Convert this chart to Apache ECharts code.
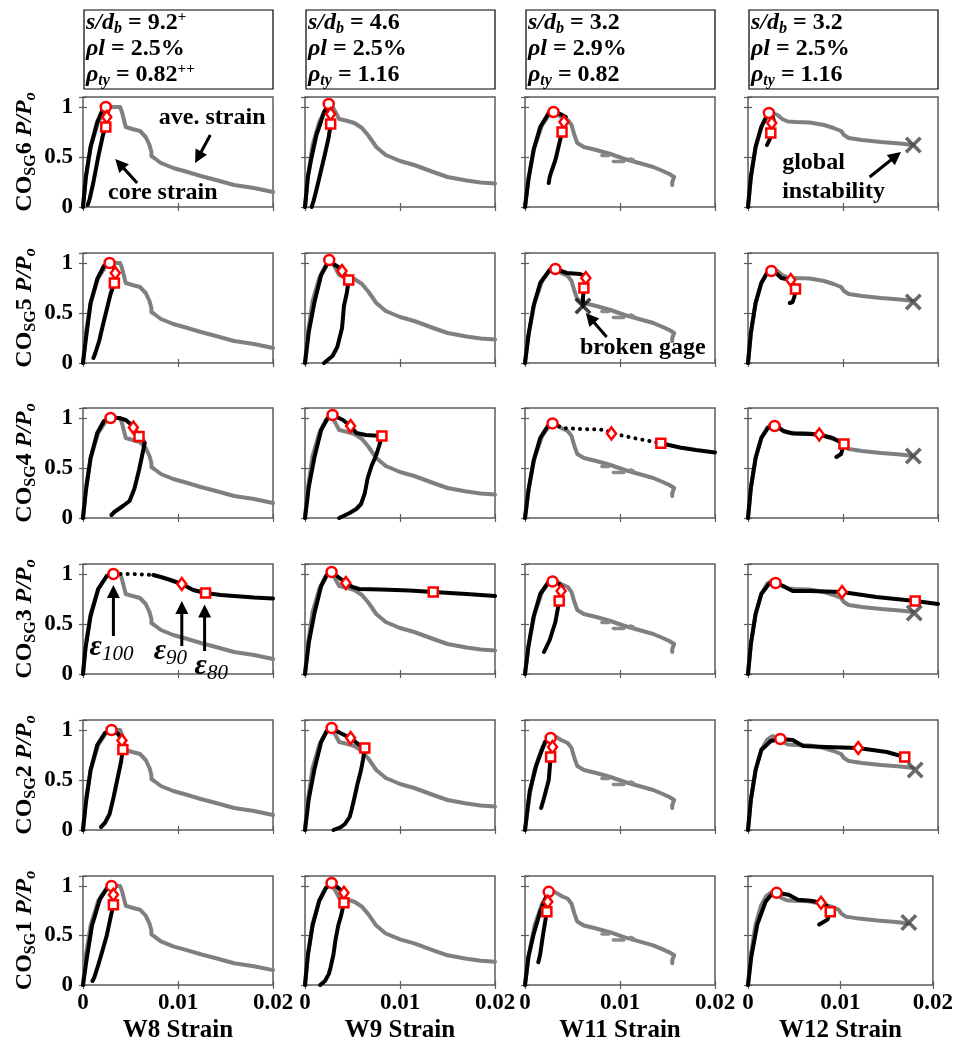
<!DOCTYPE html>
<html>
<head>
<meta charset="utf-8">
<script src="https://cdn.jsdelivr.net/npm/echarts@6/dist/echarts.min.js"></script>
<style>
  html, body { margin: 0; padding: 0; background: #fff; }
  #chart { width: 956px; height: 1044px; }
</style>
</head>
<body>
<div id="chart"></div>
<script>
// ---- column / row identifiers ----
const walls = ['W8', 'W9', 'W11', 'W12'];
const gauges = ['6', '5', '4', '3', '2', '1'];          // rows, top to bottom

// ---- specimen parameters shown above each column ----
const sdValue = ['9.2', '4.6', '3.2', '3.2'];
const sdMark = ['+', '', '', ''];
const rhoL = ['2.5%', '2.5%', '2.9%', '2.5%'];
const rhoTy = ['0.82', '1.16', '0.82', '1.16'];
const rhoTyMark = ['++', '', '', ''];

// ---- tick values ----
const strainTicks = [0, 0.01, 0.02];
const loadTicks = [0, 0.5, 1];

// ---- average strain (gray), one trace per wall: [strain, P/Po] ----
const aveW8 = [[0,0],[0.0003,0.3],[0.0008,0.6],[0.0016,0.85],[0.0025,0.98],[0.003,1.0],[0.0039,1.0],[0.0041,0.95],[0.0045,0.8],[0.0052,0.78],[0.006,0.76],[0.0066,0.7],[0.007,0.62],[0.0072,0.55],[0.0072,0.51],[0.007,0.5],[0.0075,0.49],[0.0082,0.44],[0.0095,0.39],[0.011,0.35],[0.0124,0.31],[0.014,0.27],[0.0159,0.22],[0.018,0.19],[0.02,0.15]];
const aveW9 = [[0,0],[0.0003,0.3],[0.0008,0.62],[0.0015,0.85],[0.0022,0.98],[0.0028,1.02],[0.0032,0.95],[0.0036,0.88],[0.0045,0.86],[0.0052,0.84],[0.006,0.79],[0.0067,0.71],[0.0075,0.6],[0.0085,0.52],[0.01,0.46],[0.0115,0.42],[0.0135,0.35],[0.015,0.3],[0.017,0.265],[0.0185,0.245],[0.02,0.235]];
const aveW11 = [[0,0],[0.0004,0.3],[0.001,0.6],[0.0018,0.82],[0.0026,0.93],[0.0031,0.94],[0.0038,0.9],[0.0045,0.87],[0.0049,0.82],[0.0052,0.72],[0.0055,0.64],[0.0062,0.6],[0.0075,0.57],[0.009,0.53],[0.0105,0.48],[0.012,0.44],[0.0135,0.4],[0.0145,0.36],[0.0152,0.33],[0.0157,0.3],[0.0155,0.25],[0.0155,0.22]];
const aveW11Stray = [[[0.0081,0.515],[0.0088,0.515]], [[0.0093,0.455],[0.0104,0.455]], [[0.0111,0.48],[0.0114,0.47]]];
const aveW12 = [[0,0],[0.0003,0.3],[0.0008,0.6],[0.0014,0.8],[0.002,0.9],[0.0026,0.94],[0.0031,0.92],[0.0036,0.88],[0.0042,0.855],[0.005,0.85],[0.0065,0.845],[0.008,0.82],[0.009,0.79],[0.0098,0.76],[0.0101,0.72],[0.0106,0.69],[0.012,0.67],[0.014,0.65],[0.016,0.635],[0.0174,0.62]];

// ---- core strain (black), one trace per gauge row; null splits a trace ----
const coreW8 = [
  [[0,0],[0.0003,0.3],[0.0008,0.6],[0.0015,0.85],[0.002,0.96],[0.0024,1.0],[0.0026,0.95],[0.0025,0.9],[0.0025,0.85],[0.0024,0.8],[0.0021,0.72],[0.0016,0.5],[0.0011,0.25],[0.0007,0.08],[0.0005,0.02]],
  [[0,0],[0.0003,0.24],[0.0008,0.6],[0.0015,0.84],[0.0022,0.97],[0.0028,1.0],[0.0032,0.96],[0.0034,0.9],[0.0033,0.8],[0.0029,0.69],[0.0022,0.42],[0.0017,0.22],[0.0013,0.1],[0.0011,0.05]],
  [[0,0],[0.0003,0.27],[0.0008,0.6],[0.0015,0.85],[0.0022,0.97],[0.0029,1.0],[0.0038,1.0],[0.0045,0.98],[0.005,0.94],[0.0053,0.905],[0.0057,0.85],[0.0059,0.815],[0.0063,0.78],[0.0065,0.75],[0.0063,0.66],[0.0059,0.48],[0.0054,0.29],[0.0049,0.17],[0.0042,0.12],[0.0033,0.06],[0.003,0.03]],
  [[0,0],[0.00025,0.25],[0.0008,0.58],[0.0016,0.85],[0.0025,0.98],[0.0032,1.0], null, [0.0074,0.99],[0.0082,0.97],[0.0092,0.94],[0.0104,0.9],[0.0116,0.84],[0.0129,0.81],[0.0145,0.79],[0.0159,0.78],[0.018,0.765],[0.02,0.755]],
  [[0,0],[0.0003,0.27],[0.0008,0.6],[0.0015,0.85],[0.0023,0.97],[0.003,1.0],[0.0037,0.96],[0.0041,0.895],[0.0042,0.805],[0.004,0.68],[0.0036,0.5],[0.0032,0.32],[0.0028,0.16],[0.0023,0.07],[0.0019,0.03]],
  [[0,0],[0.0004,0.27],[0.00095,0.6],[0.0018,0.87],[0.0027,1.0],[0.003,1.0],[0.0032,0.95],[0.0032,0.91],[0.0032,0.81],[0.0029,0.68],[0.0025,0.5],[0.002,0.33],[0.0016,0.2],[0.0012,0.08],[0.001,0.04]]
];
const coreW8Dotted = [null, null, null, [[0.0032,1.0],[0.0042,1.0],[0.0052,1.0],[0.0062,0.995],[0.0074,0.99]], null, null];

const coreW9 = [
  [[0,0],[0.0003,0.3],[0.0007,0.5],[0.0012,0.72],[0.0016,0.83],[0.002,0.95],[0.0025,1.03],[0.0027,0.98],[0.0027,0.93],[0.0027,0.83],[0.0025,0.7],[0.0021,0.53],[0.0016,0.33],[0.0012,0.17],[0.0009,0.06],[0.0007,0]],
  [[0,0],[0.0004,0.31],[0.001,0.61],[0.0017,0.88],[0.0024,1.0],[0.00255,1.03],[0.003,0.99],[0.0035,0.96],[0.0039,0.92],[0.0043,0.87],[0.0046,0.83],[0.0044,0.7],[0.0041,0.57],[0.0039,0.35],[0.0034,0.16],[0.0029,0.07],[0.002,0]],
  [[0,0],[0.0004,0.31],[0.001,0.61],[0.0017,0.88],[0.0024,1.0],[0.0029,1.03],[0.004,0.98],[0.0048,0.92],[0.0054,0.85],[0.0064,0.83],[0.0081,0.82],[0.0078,0.72],[0.0075,0.63],[0.007,0.52],[0.0066,0.4],[0.0063,0.25],[0.0059,0.14],[0.0054,0.09],[0.0047,0.05],[0.0036,0]],
  [[0,0],[0.0004,0.31],[0.001,0.61],[0.0017,0.88],[0.0023,0.99],[0.0028,1.02],[0.0035,0.97],[0.0043,0.91],[0.005,0.87],[0.0057,0.85],[0.008,0.845],[0.011,0.835],[0.0135,0.82],[0.017,0.8],[0.02,0.78]],
  [[0,0],[0.0004,0.31],[0.001,0.61],[0.0017,0.88],[0.0023,0.99],[0.0028,1.02],[0.0037,0.97],[0.0048,0.92],[0.0056,0.86],[0.0063,0.82],[0.0061,0.7],[0.0059,0.6],[0.0055,0.45],[0.0052,0.32],[0.0049,0.2],[0.0047,0.13],[0.0042,0.06],[0.0038,0.03],[0.003,0]],
  [[0,0],[0.0003,0.3],[0.0008,0.6],[0.0015,0.85],[0.0022,0.98],[0.0028,1.03],[0.0035,0.98],[0.0041,0.93],[0.0041,0.83],[0.0038,0.7],[0.0035,0.6],[0.0032,0.45],[0.003,0.31],[0.0027,0.18],[0.0025,0.11],[0.0021,0.04],[0.0016,0]]
];
const coreW9Dotted = [null, null, null, null, null, null];

const coreW11 = [
  [[0,0],[0.00035,0.27],[0.0009,0.57],[0.0016,0.8],[0.0025,0.94],[0.003,0.95],[0.0037,0.93],[0.0043,0.9],[0.0042,0.87],[0.0041,0.85],[0.0039,0.75],[0.0037,0.67],[0.0032,0.47],[0.0028,0.36],[0.0026,0.3],[0.0025,0.24]],
  [[0,0],[0.00035,0.27],[0.0009,0.57],[0.0016,0.8],[0.0026,0.93],[0.0032,0.94],[0.0044,0.9],[0.0058,0.89],[0.0063,0.87],[0.0064,0.85],[0.0063,0.8],[0.0062,0.75],[0.0061,0.65],[0.0061,0.57]],
  [[0,0],[0.00035,0.27],[0.0009,0.57],[0.0016,0.8],[0.0024,0.92],[0.0029,0.946], null, [0.0143,0.748],[0.0163,0.705],[0.018,0.68],[0.02,0.655]],
  [[0,0],[0.00035,0.27],[0.0009,0.57],[0.0016,0.8],[0.0024,0.91],[0.0029,0.925],[0.0036,0.9],[0.0039,0.87],[0.0038,0.83],[0.0036,0.73],[0.0032,0.52],[0.0026,0.34],[0.0021,0.24],[0.002,0.22]],
  [[0,0],[0.0005,0.39],[0.0012,0.65],[0.0021,0.88],[0.0027,0.92],[0.0029,0.88],[0.0029,0.83],[0.0027,0.73],[0.0025,0.5],[0.002,0.32],[0.0017,0.22]],
  [[0,0],[0.00035,0.28],[0.0009,0.51],[0.0016,0.74],[0.0023,0.91],[0.0025,0.94],[0.0025,0.89],[0.0024,0.84],[0.0023,0.74],[0.0019,0.51],[0.0016,0.31],[0.0014,0.23]]
];
const coreW11Dotted = [null, null, [[0.0029,0.946],[0.004,0.9],[0.006,0.89],[0.0078,0.885],[0.0086,0.875],[0.0091,0.846],[0.01,0.83],[0.0114,0.8],[0.0128,0.775],[0.0143,0.748]], null, null, null];

const coreW12 = [
  [[0,0],[0.0003,0.3],[0.0008,0.6],[0.0014,0.8],[0.0019,0.9],[0.0022,0.94],[0.0026,0.9],[0.0027,0.87],[0.0025,0.84],[0.0024,0.74],[0.0023,0.68],[0.002,0.62]],
  [[0,0],[0.0003,0.3],[0.0008,0.6],[0.0014,0.8],[0.002,0.9],[0.00246,0.92],[0.003,0.895],[0.0035,0.85],[0.004,0.84],[0.0045,0.83],[0.0047,0.8],[0.005,0.74],[0.0049,0.67],[0.0047,0.61],[0.0044,0.6]],
  [[0,0],[0.0003,0.3],[0.0008,0.6],[0.0014,0.8],[0.0021,0.9],[0.0028,0.92],[0.0033,0.9],[0.0037,0.87],[0.0047,0.845],[0.0065,0.84],[0.0075,0.835],[0.0089,0.8],[0.0101,0.74],[0.0098,0.64],[0.0093,0.61]],
  [[0,0],[0.0003,0.3],[0.0008,0.6],[0.0014,0.8],[0.0022,0.9],[0.0029,0.91],[0.0037,0.88],[0.0047,0.83],[0.0065,0.83],[0.0099,0.82],[0.0135,0.77],[0.0176,0.73],[0.02,0.7]],
  [[0,0],[0.0003,0.3],[0.0008,0.6],[0.0014,0.8],[0.0024,0.89],[0.0034,0.91],[0.0047,0.9],[0.0058,0.84],[0.0082,0.83],[0.0116,0.82],[0.0146,0.78],[0.0165,0.73]],
  [[0,0],[0.00035,0.28],[0.001,0.61],[0.0019,0.84],[0.0026,0.92],[0.0031,0.93],[0.0044,0.91],[0.0054,0.86],[0.0068,0.85],[0.0079,0.83],[0.0085,0.8],[0.0089,0.74],[0.0086,0.66],[0.0077,0.61]]
];
const coreW12Dotted = [null, null, null, null, null, null];

// ---- strain at 100 %, 90 % and 80 % of peak load, per row: [ε100, ε90, ε80] ----
const epsW8 = [
  [[0.0024,1.0],[0.0025,0.9],[0.0024,0.8]],
  [[0.0028,1.0],[0.0034,0.9],[0.0033,0.8]],
  [[0.0029,1.0],[0.0053,0.905],[0.0059,0.815]],
  [[0.0032,1.0],[0.0104,0.9],[0.0129,0.81]],
  [[0.003,1.0],[0.0041,0.895],[0.0042,0.805]],
  [[0.003,1.0],[0.0032,0.91],[0.0032,0.81]]
];
const epsW9 = [
  [[0.0025,1.03],[0.0027,0.93],[0.0027,0.83]],
  [[0.00255,1.03],[0.0039,0.92],[0.0046,0.83]],
  [[0.0029,1.03],[0.0048,0.92],[0.0081,0.82]],
  [[0.0028,1.02],[0.0043,0.91],[0.0135,0.82]],
  [[0.0028,1.02],[0.0048,0.92],[0.0063,0.82]],
  [[0.0028,1.03],[0.0041,0.93],[0.0041,0.83]]
];
const epsW11 = [
  [[0.003,0.95],[0.0041,0.85],[0.0039,0.75]],
  [[0.0032,0.94],[0.0064,0.85],[0.0062,0.75]],
  [[0.0029,0.946],[0.0091,0.846],[0.0143,0.748]],
  [[0.0029,0.925],[0.0038,0.83],[0.0036,0.73]],
  [[0.0027,0.92],[0.0029,0.83],[0.0027,0.73]],
  [[0.0025,0.94],[0.0024,0.84],[0.0023,0.74]]
];
const epsW12 = [
  [[0.0022,0.94],[0.0025,0.84],[0.0024,0.74]],
  [[0.00246,0.92],[0.0045,0.83],[0.005,0.74]],
  [[0.0028,0.92],[0.0075,0.835],[0.0101,0.74]],
  [[0.0029,0.91],[0.0099,0.82],[0.0176,0.73]],
  [[0.0034,0.91],[0.0116,0.82],[0.0165,0.73]],
  [[0.0031,0.93],[0.0079,0.83],[0.0089,0.74]]
];

// ---- event markers ----
const brokenGageW11 = [null, [0.0061,0.57], null, null, null, null];
const instabilityW12 = [[0.0174,0.62],[0.0174,0.61],[0.0174,0.62],[0.0175,0.61],[0.0176,0.6],[0.0174,0.63]];

// ---- text callouts: panel [row, col], anchor in data units ----
const callouts = [
  { row: 0, col: 0, text: 'ave. strain', at: [0.0136, 0.89], align: 'center' },
  { row: 0, col: 0, text: 'core strain', at: [0.0084, 0.14], align: 'center' },
  { row: 0, col: 3, text: 'global', at: [0.0036, 0.44], align: 'left' },
  { row: 0, col: 3, text: 'instability', at: [0.0036, 0.15], align: 'left' },
  { row: 1, col: 2, text: 'broken gage', at: [0.0124, 0.15], align: 'center' }
];
const epsCallouts = [
  { row: 3, col: 0, sub: '100', at: [0.003, 0.27] },
  { row: 3, col: 0, sub: '90', at: [0.0092, 0.23] },
  { row: 3, col: 0, sub: '80', at: [0.0135, 0.08] }
];
const arrows = [
  { row: 0, col: 0, from: [0.0134, 0.72], to: [0.0118, 0.44] },
  { row: 0, col: 0, from: [0.0057, 0.24], to: [0.0034, 0.48] },
  { row: 0, col: 3, from: [0.0128, 0.30], to: [0.0161, 0.55] },
  { row: 1, col: 2, from: [0.0086, 0.26], to: [0.0064, 0.50] },
  { row: 3, col: 0, from: [0.0032, 0.38], to: [0.0032, 0.89] },
  { row: 3, col: 0, from: [0.0104, 0.28], to: [0.0104, 0.73] },
  { row: 3, col: 0, from: [0.0128, 0.23], to: [0.0128, 0.695] }
];

// ---- layout ----
const FONT = '"Liberation Serif", "Times New Roman", Times, serif';
const colLeft = [83, 305, 525, 748];
const rowTop = [97, 253, 408, 564, 720, 876];
const PW = 190, PH = 110;
const FRAME = '#5c5c5c';

const aveByWall = [aveW8, aveW9, aveW11, aveW12];
const coreByWall = [coreW8, coreW9, coreW11, coreW12];
const dottedByWall = [coreW8Dotted, coreW9Dotted, coreW11Dotted, coreW12Dotted];
const epsByWall = [epsW8, epsW9, epsW11, epsW12];

const X_PATH = 'path://M3,0 L10,7 L17,0 L20,3 L13,10 L20,17 L17,20 L10,13 L3,20 L0,17 L7,10 L0,3 Z';

function splitTrace(pts) {
  const parts = [];
  let cur = [];
  pts.forEach(p => {
    if (p === null) { if (cur.length) parts.push(cur); cur = []; }
    else cur.push(p);
  });
  if (cur.length) parts.push(cur);
  return parts;
}

const near = (v, list) => list.some(t => Math.abs(v - t) < 1e-9);

const grids = [], xAxes = [], yAxes = [], series = [];
const tick = { show: true, inside: true, length: 4, lineStyle: { color: FRAME, width: 1.2 } };

for (let r = 0; r < gauges.length; r++) {
  for (let c = 0; c < walls.length; c++) {
    const g = r * walls.length + c;
    grids.push({
      left: colLeft[c], top: rowTop[r], width: PW, height: PH,
      show: true, borderColor: FRAME, borderWidth: 1.5, backgroundColor: '#fff'
    });
    // bottom strain axis
    xAxes.push({
      type: 'value', gridIndex: g, min: 0, max: 0.02, interval: 0.01, position: 'bottom',
      axisLine: { show: false }, axisTick: tick, splitLine: { show: false },
      axisLabel: {
        show: r === gauges.length - 1, margin: 7, color: '#000',
        fontFamily: FONT, fontWeight: 'bold', fontSize: 23,
        formatter: v => near(v, strainTicks) ? (v === 0 ? '0' : String(+v.toFixed(3))) : ''
      },
      name: r === gauges.length - 1 ? walls[c] + ' Strain' : '',
      nameLocation: 'middle', nameGap: 33,
      nameTextStyle: { fontFamily: FONT, fontWeight: 'bold', fontSize: 25, color: '#000' }
    });
    // mirrored top ticks
    xAxes.push({
      type: 'value', gridIndex: g, min: 0, max: 0.02, interval: 0.01, position: 'top',
      axisLine: { show: false }, axisTick: tick, splitLine: { show: false }, axisLabel: { show: false }
    });
    // left load axis
    const base = { fontFamily: FONT, fontWeight: 'bold', fontSize: 24, color: '#000' };
    yAxes.push({
      type: 'value', gridIndex: g, min: 0, max: 1.1, interval: 0.5, position: 'left',
      axisLine: { show: false }, axisTick: tick, splitLine: { show: false },
      axisLabel: {
        show: c === 0, margin: 10, color: '#000',
        fontFamily: FONT, fontWeight: 'bold', fontSize: 23,
        formatter: v => near(v, loadTicks) ? String(+v.toFixed(1)) : ''
      },
      name: c === 0 ? `{n|CO}{s|SG}{n|${gauges[r]} }{i|P/P}{si|o}` : '',
      nameLocation: 'middle', nameRotate: 90, nameGap: 44,
      nameTextStyle: {
        ...base,
        rich: {
          n: { ...base },
          s: { ...base, fontSize: 16, padding: [12, 0, 0, 0] },
          i: { ...base, fontStyle: 'italic' },
          si: { ...base, fontSize: 16, fontStyle: 'italic', padding: [12, 0, 0, 0] }
        }
      }
    });
    // mirrored right ticks
    yAxes.push({
      type: 'value', gridIndex: g, min: 0, max: 1.1, interval: 0.5, position: 'right',
      axisLine: { show: false }, axisTick: tick, splitLine: { show: false }, axisLabel: { show: false }
    });

    const ax = { xAxisIndex: 2 * g, yAxisIndex: 2 * g };
    const lineBase = { type: 'line', ...ax, showSymbol: false, silent: true, animation: false };

    // average strain (gray)
    series.push({ ...lineBase, data: aveByWall[c], z: 2,
      lineStyle: { color: '#7f7f7f', width: 4, join: 'round', cap: 'round' } });
    if (c === 2) {
      aveW11Stray.forEach(seg => series.push({ ...lineBase, data: seg, z: 2,
        lineStyle: { color: '#8a8a8a', width: 3.5, cap: 'round' } }));
    }
    // core strain (black)
    splitTrace(coreByWall[c][r]).forEach(part => series.push({ ...lineBase, data: part, z: 3,
      lineStyle: { color: '#000', width: 4, join: 'round', cap: 'round' } }));
    const dotted = dottedByWall[c][r];
    if (dotted) {
      series.push({ ...lineBase, data: dotted, z: 3,
        lineStyle: { color: '#000', width: 4, type: [0.1, 7], cap: 'round' } });
    }
    // ε100 / ε90 / ε80 markers
    const shapes = [['circle', 10], ['diamond', [9, 12]], ['rect', 9]];
    series.push({
      type: 'scatter', ...ax, silent: true, animation: false, z: 6,
      data: epsByWall[c][r].map((p, k) => ({ value: p, symbol: shapes[k][0], symbolSize: shapes[k][1] })),
      itemStyle: { color: '#fff', borderColor: '#ff0000', borderWidth: 2.5, opacity: 1 }
    });
    // event markers
    if (c === 2 && brokenGageW11[r]) {
      series.push({ type: 'scatter', ...ax, silent: true, animation: false, z: 7,
        data: [brokenGageW11[r]], symbol: X_PATH, symbolSize: 17, itemStyle: { color: '#111' } });
    }
    if (c === 3 && instabilityW12[r]) {
      series.push({ type: 'scatter', ...ax, silent: true, animation: false, z: 7,
        data: [instabilityW12[r]], symbol: X_PATH, symbolSize: 17, itemStyle: { color: '#444' } });
    }
  }
}

const chart = echarts.init(document.getElementById('chart'), null, { renderer: 'canvas' });
chart.setOption({
  animation: false,
  backgroundColor: '#fff',
  grid: grids, xAxis: xAxes, yAxis: yAxes, series: series
});

// ---- parameter boxes above each column, callouts and arrows ----
const graphics = [];
const tok = (size, style) => ({ fontFamily: FONT, fontWeight: 'bold', fontSize: size, fontStyle: style || 'normal', fill: '#000' });

for (let c = 0; c < walls.length; c++) {
  graphics.push({
    type: 'rect', z: 50,
    shape: { x: colLeft[c] + 1, y: 10, width: PW - 1, height: 79 },
    style: { fill: '#fff', stroke: '#000', lineWidth: 1.2 }
  });
  const l1 = `{it|s/d}{sub|b}{rm| = ${sdValue[c]}}` + (sdMark[c] ? `{sup|${sdMark[c]}}` : '');
  const l2 = `{it|ρl}{rm| = ${rhoL[c]}}`;
  const l3 = `{it|ρ}{sub|ty}{rm| = ${rhoTy[c]}}` + (rhoTyMark[c] ? `{sup|${rhoTyMark[c]}}` : '');
  graphics.push({
    type: 'text', z: 51, x: colLeft[c] + 3, y: 10,
    style: {
      text: [l1, l2, l3].join('\n'),
      ...tok(24), lineHeight: 26, align: 'left', verticalAlign: 'top',
      rich: {
        it: { ...tok(24, 'italic'), lineHeight: 26 },
        rm: { ...tok(24), lineHeight: 26 },
        sub: { ...tok(16, 'italic'), padding: [12, 0, 0, 0], lineHeight: 16 },
        sup: { ...tok(15), padding: [0, 0, 12, 0], lineHeight: 16 }
      }
    }
  });
}

const toPx = (row, col, p) => chart.convertToPixel({ gridIndex: row * walls.length + col }, p);

callouts.forEach(n => {
  const p = toPx(n.row, n.col, n.at);
  graphics.push({
    type: 'text', z: 60, x: p[0], y: p[1],
    style: { text: n.text, ...tok(24), align: n.align, verticalAlign: 'middle' }
  });
});

epsCallouts.forEach(n => {
  const p = toPx(n.row, n.col, n.at);
  graphics.push({
    type: 'text', z: 60, x: p[0], y: p[1],
    style: {
      text: `{e|ε}{s|${n.sub}}`, ...tok(28, 'italic'), align: 'center', verticalAlign: 'middle',
      rich: {
        e: { ...tok(30, 'italic') },
        s: { fontFamily: FONT, fontWeight: 'normal', fontStyle: 'italic', fontSize: 21, fill: '#000', padding: [14, 0, 0, 0] }
      }
    }
  });
});

arrows.forEach(a => {
  const p1 = toPx(a.row, a.col, a.from), p2 = toPx(a.row, a.col, a.to);
  const dx = p2[0] - p1[0], dy = p2[1] - p1[1];
  const len = Math.hypot(dx, dy), ux = dx / len, uy = dy / len;
  const headLen = 13, headHalf = 6.5;
  const bx = p2[0] - ux * headLen, by = p2[1] - uy * headLen;
  graphics.push({
    type: 'line', z: 60,
    shape: { x1: p1[0], y1: p1[1], x2: bx + ux, y2: by + uy },
    style: { stroke: '#000', lineWidth: 3 }
  });
  graphics.push({
    type: 'polygon', z: 60,
    shape: { points: [[p2[0], p2[1]], [bx - uy * headHalf, by + ux * headHalf], [bx + uy * headHalf, by - ux * headHalf]] },
    style: { fill: '#000' }
  });
});

chart.setOption({ graphic: graphics });
</script>
</body>
</html>
